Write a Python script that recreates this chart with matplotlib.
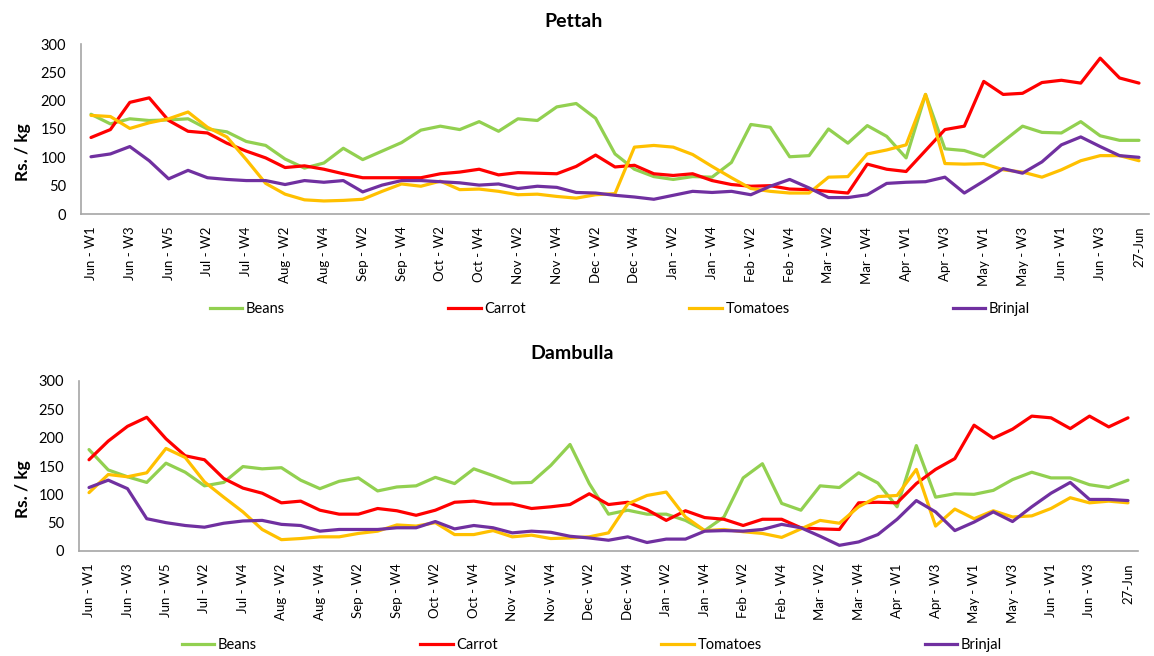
import matplotlib
matplotlib.use("Agg")
import matplotlib.pyplot as plt
from matplotlib.lines import Line2D

plt.rcParams['font.family'] = ['Lato', 'DejaVu Sans']

weeks = [
    "Jun - W1", "Jun - W2", "Jun - W3", "Jun - W4", "Jun - W5",
    "Jul - W1", "Jul - W2", "Jul - W3", "Jul - W4",
    "Aug - W1", "Aug - W2", "Aug - W3", "Aug - W4",
    "Sep - W1", "Sep - W2", "Sep - W3", "Sep - W4",
    "Oct - W1", "Oct - W2", "Oct - W3", "Oct - W4",
    "Nov - W1", "Nov - W2", "Nov - W3", "Nov - W4",
    "Dec - W1", "Dec - W2", "Dec - W3", "Dec - W4",
    "Jan - W1", "Jan - W2", "Jan - W3", "Jan - W4",
    "Feb - W1", "Feb - W2", "Feb - W3", "Feb - W4",
    "Mar - W1", "Mar - W2", "Mar - W3", "Mar - W4", "Mar - W5",
    "Apr - W1", "Apr - W2", "Apr - W3", "Apr - W4",
    "May - W1", "May - W2", "May - W3", "May - W4",
    "Jun - W1", "Jun - W2", "Jun - W3", "Jun - W4", "27-Jun",
]

series_names = ["Beans", "Carrot", "Tomatoes", "Brinjal"]
series_colors = ["#92d050", "#ff0000", "#ffc000", "#7030a0"]

pettah_beans = [176, 159, 168, 165, 166, 168, 150, 145, 128, 121, 97, 81, 90, 116, 96, 111, 126, 148, 155,
                149, 163, 146, 168, 165, 189, 195, 169, 106, 79, 66, 61, 66, 65, 91, 158, 153, 101,
                103, 150, 125, 156, 137, 99, 211, 115, 112, 101, 128, 155, 144, 143, 163, 138, 130, 130]
pettah_carrot = [135, 149, 197, 205, 165, 146, 143, 125, 111, 99, 82, 85, 79, 71, 64, 64, 64, 64, 71,
                 74, 79, 69, 73, 72, 71, 84, 104, 83, 86, 71, 68, 71, 59, 52, 49, 50, 44,
                 43, 40, 37, 88, 79, 75, 112, 149, 155, 234, 211, 213, 232, 236, 231, 275, 240, 231]
pettah_tomatoes = [174, 172, 151, 161, 168, 180, 153, 136, 96, 54, 35, 25, 23, 24, 26, 40, 53, 49, 58,
                   43, 44, 40, 34, 35, 31, 28, 34, 36, 118, 121, 118, 105, 84, 64, 45, 40, 37,
                   37, 65, 66, 106, 113, 122, 211, 89, 88, 89, 78, 74, 65, 78, 94, 103, 103, 94]
pettah_brinjal = [101, 106, 119, 94, 62, 77, 64, 61, 59, 59, 52, 59, 56, 59, 39, 51, 59, 59, 57,
                  55, 51, 53, 45, 49, 47, 38, 37, 33, 30, 26, 33, 40, 38, 40, 34, 49, 61,
                  46, 29, 29, 34, 54, 56, 57, 65, 37, 58, 80, 72, 92, 122, 136, 119, 103, 100]

dambulla_beans = [179, 143, 131, 121, 155, 139, 115, 121, 149, 145, 147, 125, 110, 123, 129, 106, 113, 115, 130,
                  119, 145, 133, 120, 121, 151, 188, 119, 65, 72, 65, 65, 54, 36, 60, 129, 154, 84,
                  72, 115, 112, 138, 120, 78, 186, 95, 101, 100, 107, 126, 139, 129, 129, 117, 112, 125]
dambulla_carrot = [161, 194, 220, 236, 198, 168, 161, 128, 111, 102, 85, 88, 72, 65, 65, 75, 71, 63, 72,
                   86, 88, 83, 83, 75, 78, 82, 101, 82, 86, 73, 54, 71, 59, 56, 45, 56, 56,
                   41, 39, 38, 85, 86, 85, 119, 144, 163, 222, 199, 215, 238, 235, 216, 238, 219, 235]
dambulla_tomatoes = [103, 135, 131, 138, 181, 165, 122, 95, 69, 38, 20, 22, 25, 25, 31, 35, 46, 44, 50,
                     29, 29, 36, 25, 28, 22, 23, 25, 32, 83, 98, 104, 60, 36, 38, 34, 31, 24,
                     39, 54, 49, 78, 96, 98, 144, 44, 74, 57, 71, 60, 62, 75, 94, 85, 88, 85]
dambulla_brinjal = [112, 125, 110, 57, 50, 45, 42, 49, 53, 54, 47, 45, 35, 38, 38, 38, 41, 41, 52,
                    39, 45, 41, 32, 35, 33, 26, 23, 19, 25, 15, 21, 21, 35, 36, 35, 38, 47,
                    41, 26, 10, 16, 29, 56, 89, 69, 36, 51, 69, 52, 78, 102, 121, 91, 91, 89]

y_ticks = [0, 50, 100, 150, 200, 250, 300]

W, H = 1154, 656
fig = plt.figure(figsize=(W / 100, H / 100), dpi=100)

panels = [
    dict(title="Pettah", data=[pettah_beans, pettah_carrot, pettah_tomatoes, pettah_brinjal],
         rect=(81.3, 44, 1148.7, 214), title_xy=(573.5, 27), ylab_xy=(23, 152.5), leg_xy=(210, 309)),
    dict(title="Dambulla", data=[dambulla_beans, dambulla_carrot, dambulla_tomatoes, dambulla_brinjal],
         rect=(79.4, 381, 1137.6, 551), title_xy=(572, 359), ylab_xy=(23, 489.5), leg_xy=(182, 645)),
]

x = list(range(len(weeks)))
for p in panels:
    x0, y0, x1, y1 = p["rect"]
    ax = fig.add_axes([x0 / W, 1 - y1 / H, (x1 - x0) / W, (y1 - y0) / H])
    for vals, name, col in zip(p["data"], series_names, series_colors):
        ax.plot(x, vals, color=col, lw=2.3, solid_joinstyle='round', solid_capstyle='round', label=name)
    ax.set_xlim(-0.5, len(weeks) - 0.5)
    ax.set_ylim(0, 300)
    ax.set_yticks(y_ticks)
    ax.set_yticklabels([str(v) for v in y_ticks], fontsize=10.5, color='#000000')
    ax.set_xticks(x[::2])
    ax.set_xticklabels(weeks[::2], rotation=90, fontsize=9.5, color='#000000')
    ax.tick_params(axis='both', length=0)
    ax.tick_params(axis='y', pad=11)
    ax.tick_params(axis='x', pad=9)
    for s in ['top', 'right']:
        ax.spines[s].set_visible(False)
    for s in ['left', 'bottom']:
        ax.spines[s].set_color('#a6a6a6')
        ax.spines[s].set_linewidth(1.2)
    ax.patch.set_alpha(0)

    fig.text(p["title_xy"][0] / W, 1 - p["title_xy"][1] / H, p["title"], ha='center', va='baseline',
             fontsize=14, fontweight='bold')
    fig.text(p["ylab_xy"][0] / W, 1 - p["ylab_xy"][1] / H, "Rs. / kg", ha='center', va='center',
             rotation=90, fontsize=12.5, fontweight='bold')

    handles = [Line2D([], [], color=c, lw=2.3) for c in series_colors]
    fig.legend(handles, series_names, loc='center left',
               bbox_to_anchor=(p["leg_xy"][0] / W, 1 - p["leg_xy"][1] / H),
               ncol=4, frameon=False, fontsize=10.5, handlelength=2.2, handletextpad=0.27,
               columnspacing=11.2, borderpad=0, borderaxespad=0)

fig.savefig("out.png", dpi=100)
